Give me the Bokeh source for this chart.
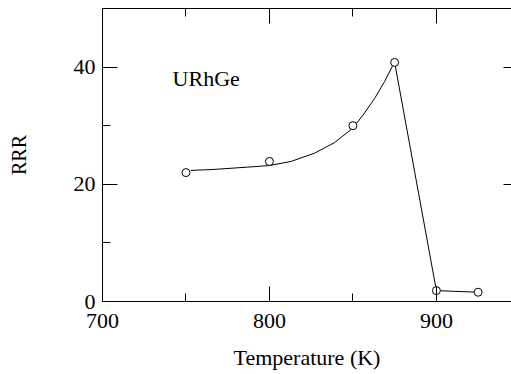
from bokeh.plotting import figure
from bokeh.models import LinearAxis, SingleIntervalTicker, Range1d, CustomJSTickFormatter
from bokeh.core.properties import value
from bokeh.embed import file_html
from bokeh.resources import INLINE

# measured points
temp_K = [750, 800, 850, 875, 900, 925]
rrr = [22.0, 23.9, 30.0, 40.8, 1.86, 1.58]

# guide curve (smooth part), then straight segments
curve_T = [752.9, 766.9, 786.9, 799.9, 812.9, 826.9, 838.9, 850, 856, 862.9, 868.9, 873.9, 875]
curve_R = [22.37, 22.54, 22.93, 23.2, 23.9, 25.3, 27.1, 29.6, 31.8, 34.6, 37.5, 40.3, 40.8]
drop_T = [875, 900, 925]
drop_R = [40.8, 1.86, 1.58]

label_text = "URhGe"
label_T = 742
label_R = 38.0

FONT = "Liberation Serif"

p = figure(width=511, height=372, output_backend="svg", toolbar_location=None,
           x_range=Range1d(700, 945.0), y_range=Range1d(0, 50),
           x_axis_location=None, y_axis_location=None)
p.min_border_left = 102
p.min_border_top = 8
p.min_border_right = 0
p.min_border_bottom = 71
p.xgrid.visible = False
p.ygrid.visible = False
p.outline_line_color = None
p.background_fill_color = "white"
p.border_fill_color = "white"

def style(ax, labels=True):
    ax.axis_line_color = "black"
    ax.major_tick_in = 15
    ax.major_tick_out = 0
    ax.minor_tick_in = 8
    ax.minor_tick_out = 0
    ax.major_tick_line_color = "black"
    ax.minor_tick_line_color = "black"
    if labels:
        ax.major_label_text_font = FONT
        ax.major_label_text_font_size = "22px"
        ax.major_label_text_color = "black"
        ax.axis_label_text_font = FONT
        ax.axis_label_text_font_size = "22px"
        ax.axis_label_text_font_style = "normal"
        ax.axis_label_text_color = "black"
    else:
        ax.formatter = CustomJSTickFormatter(code="return '';")
        ax.major_label_standoff = 0

xb = LinearAxis(ticker=SingleIntervalTicker(interval=100, num_minor_ticks=2),
                axis_label="Temperature (K)")
style(xb)
xb.major_label_standoff = 12
xb.axis_label_standoff = 14
p.add_layout(xb, "below")

yl = LinearAxis(ticker=SingleIntervalTicker(interval=20, num_minor_ticks=2),
                axis_label="RRR")
style(yl)
yl.major_label_standoff = 7
yl.axis_label_standoff = 41
yl.axis_label_text_font_size = "20px"
p.add_layout(yl, "left")

xt = LinearAxis(ticker=SingleIntervalTicker(interval=100, num_minor_ticks=2))
style(xt, labels=False)
p.add_layout(xt, "above")

# right frame lies just past the picture's edge: only the tick stubs show
yr = LinearAxis(ticker=SingleIntervalTicker(interval=20, num_minor_ticks=2))
style(yr, labels=False)
yr.axis_line_color = None
yr.major_tick_in = 8
yr.minor_tick_in = 0
yr.minor_tick_line_color = None
p.add_layout(yr, "right")

p.line(curve_T, curve_R, line_color="black", line_width=1)
p.line(drop_T, drop_R, line_color="black", line_width=1)
p.scatter(temp_K, rrr, marker="circle", size=8, fill_color="white",
          line_color="black", line_width=1)

p.text(x=[label_T], y=[label_R], text=[label_text], text_font=value(FONT),
       text_font_size="22px", text_color="black", text_align="left",
       text_baseline="alphabetic")

open("out.html", "w").write(file_html(p, INLINE))
